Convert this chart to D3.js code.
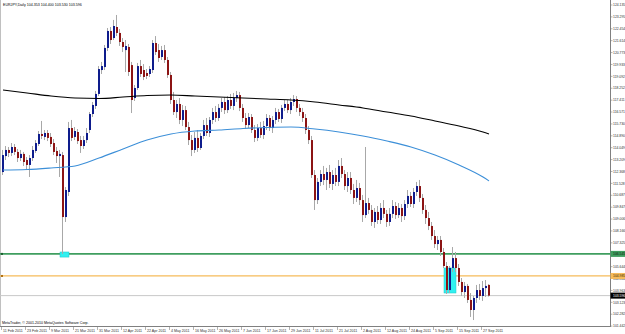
<!DOCTYPE html>
<html>
<head>
<meta charset="utf-8">
<script src="https://cdn.jsdelivr.net/npm/d3@7"></script>
<style>
  html, body { margin: 0; padding: 0; background: #fff; }
  svg { display: block; font-family: "Liberation Sans", Arial, sans-serif; }
</style>
</head>
<body>
<svg id="chart" width="625" height="334"></svg>
<script>
// EURJPY daily bars, each [open, high, low, close]
const bars = [
  [112.33,113.89,112.12,113.53],[113.46,114.17,113.18,113.89],[113.89,114.10,113.39,113.68],[113.68,114.38,113.46,114.10],
  [114.10,114.31,113.53,113.75],[113.75,113.96,113.04,113.32],[113.32,113.89,113.11,113.61],[113.61,113.75,112.76,113.04],
  [113.18,113.39,112.47,112.83],[112.83,113.53,111.98,113.32],[113.32,114.17,113.11,113.89],[113.82,114.59,113.68,114.38],
  [114.31,115.23,114.17,115.02],[115.02,115.94,114.66,114.88],[114.81,115.30,114.59,115.09],[115.09,115.30,114.52,114.74],
  [114.81,115.09,114.10,114.31],[114.38,114.66,113.53,113.75],[113.82,114.10,112.97,113.46],[113.46,113.89,111.98,113.61],
  [113.53,113.75,106.54,109.15],[109.15,111.27,108.80,111.06],[110.92,115.87,110.64,115.44],[115.44,116.01,114.52,114.74],
  [114.81,115.51,114.59,115.23],[115.16,115.37,114.31,114.52],[114.59,114.88,113.68,114.17],[114.17,114.88,113.96,114.59],
  [114.59,115.44,114.38,115.09],[115.30,116.57,115.09,116.43],[116.43,117.28,116.22,117.07],[117.00,118.06,116.79,117.85],
  [117.85,119.82,117.70,119.61],[119.54,120.11,119.26,119.82],[119.75,121.31,119.54,121.10],[121.10,122.51,120.88,122.30],
  [122.30,122.58,121.38,121.66],[121.80,123.08,121.66,122.65],[122.58,123.43,121.94,122.16],[122.16,122.44,121.24,121.52],
  [121.52,121.80,120.81,121.17],[120.95,121.66,119.40,121.24],[121.17,121.38,119.12,119.40],[119.89,120.11,116.50,117.42],
  [117.56,118.48,117.35,118.27],[118.27,120.04,118.13,119.82],[119.82,120.25,119.05,119.26],[119.54,119.96,118.83,119.05],
  [119.33,119.61,118.90,119.12],[119.26,119.82,119.05,119.61],[119.54,121.66,119.33,121.45],[121.45,121.94,120.60,120.81],
  [120.95,121.38,120.11,120.39],[120.46,121.24,120.25,120.95],[120.95,121.31,120.04,120.25],[120.25,120.46,118.98,119.19],
  [119.19,119.40,117.14,117.42],[117.42,117.99,116.36,116.57],[116.57,117.42,116.15,117.14],[117.14,117.56,115.72,116.01],
  [116.01,117.07,115.58,116.71],[116.71,117.00,115.30,115.51],[115.51,115.87,114.24,114.59],[114.59,114.95,113.46,113.89],
  [113.89,115.16,113.68,114.74],[114.74,115.30,113.75,114.03],[114.03,115.09,113.89,114.88],[114.88,116.01,114.66,115.65],
  [115.65,116.15,114.88,115.09],[115.09,116.22,114.81,116.01],[116.01,116.86,115.72,116.57],[116.57,117.00,115.87,116.15],
  [116.15,117.14,115.94,116.86],[116.86,117.56,116.57,117.28],[117.28,117.63,116.43,116.71],[116.71,117.70,116.50,117.42],
  [117.42,117.85,116.79,117.00],[117.00,117.92,116.71,117.56],[117.56,118.06,117.28,117.77],[117.77,117.99,116.64,116.86],
  [116.86,117.14,115.87,116.15],[116.15,116.50,115.37,115.65],[115.65,116.50,115.44,116.22],[116.22,116.43,115.09,115.30],
  [115.30,115.65,114.45,114.74],[114.74,115.72,114.52,115.44],[115.44,115.87,114.74,114.95],[114.95,115.94,114.66,115.58],
  [115.58,116.43,115.30,116.15],[116.15,116.36,115.23,115.44],[115.44,116.29,115.09,116.01],[116.01,116.86,115.72,116.57],
  [116.57,116.79,115.87,116.08],[116.08,117.07,115.80,116.86],[116.86,117.42,116.64,117.14],[117.14,117.42,116.50,116.71],
  [116.71,117.56,116.43,117.28],[117.28,117.77,117.00,117.49],[117.49,117.70,116.57,116.86],[116.86,117.14,116.29,116.57],
  [116.57,116.86,115.87,116.15],[116.15,116.43,115.02,115.30],[115.30,115.58,114.31,114.59],[114.59,114.88,111.91,112.12],
  [112.12,112.47,109.65,110.35],[110.35,111.91,110.07,111.63],[111.63,112.47,111.34,112.19],[112.19,112.76,111.41,111.77],
  [111.77,112.62,111.06,112.33],[112.33,112.83,111.20,111.49],[111.49,112.47,111.06,112.12],[112.12,112.62,111.34,111.63],
  [111.63,113.18,111.34,112.76],[112.76,113.32,111.91,112.19],[112.19,112.47,111.06,111.34],[111.34,112.33,110.92,111.91],
  [111.91,112.33,110.78,111.06],[111.06,111.49,110.07,110.50],[110.50,111.77,110.21,111.20],[111.20,111.56,110.00,110.35],
  [110.35,110.71,108.80,109.29],[109.29,114.10,109.08,110.14],[110.14,110.50,109.37,109.65],[109.65,110.00,108.52,108.80],
  [108.80,109.79,108.38,109.51],[109.51,109.93,108.66,108.94],[108.94,110.14,108.66,109.79],[109.79,110.35,109.08,109.37],
  [109.37,109.65,108.45,108.80],[108.80,109.79,108.52,109.37],[109.37,110.35,109.08,109.93],[109.93,110.21,109.01,109.29],
  [109.29,110.14,109.08,109.79],[109.79,110.07,108.80,109.22],[109.22,110.35,108.94,110.07],[110.07,111.06,109.79,110.64],
  [110.64,110.92,109.86,110.07],[110.07,111.20,109.79,110.92],[110.92,111.63,110.64,111.34],[111.34,111.77,110.21,110.50],
  [110.50,110.78,109.37,109.65],[109.65,110.00,108.66,109.08],[109.08,109.51,108.23,108.52],[108.52,108.80,107.53,107.81],
  [107.81,108.23,106.96,107.24],[107.24,107.81,106.82,107.53],[107.53,107.81,106.40,106.68],[106.68,106.96,105.55,105.69],
  [105.69,105.97,103.71,103.99],[103.99,105.69,103.78,105.55],[105.55,107.03,105.27,106.25],[106.25,106.68,105.27,105.55],
  [105.55,105.83,104.28,104.56],[104.56,104.84,103.57,103.85],[103.85,104.56,103.43,104.28],[104.28,104.42,103.08,103.29],
  [103.29,103.78,102.09,102.58],[102.58,103.57,101.87,103.43],[103.43,104.35,103.08,103.99],[103.99,104.42,103.29,103.57],
  [103.57,104.63,103.22,104.13],[104.13,104.70,103.50,104.28],[104.353,104.400,103.530,103.596]
];

// date labels, one every 8 bars
const dateLabels = ["11 Feb 2011", "23 Feb 2011", "9 Mar 2011", "21 Mar 2011", "31 Mar 2011", "12 Apr 2011",
  "22 Apr 2011", "4 May 2011", "16 May 2011", "26 May 2011", "7 Jun 2011", "17 Jun 2011", "29 Jun 2011",
  "11 Jul 2011", "21 Jul 2011", "2 Aug 2011", "12 Aug 2011", "24 Aug 2011", "5 Sep 2011", "15 Sep 2011", "27 Sep 2011"];
const labelEvery = 8;

const priceTicks = ["124.135", "123.295", "122.454", "121.614", "120.773", "119.933", "119.092", "118.252",
  "117.411", "116.571", "115.730", "114.890", "114.049", "113.209", "112.368", "111.528", "110.687",
  "109.847", "109.006", "108.166", "107.325", "106.485", "105.644", "104.804", "103.963", "103.123",
  "102.282", "101.442"];

// moving averages, read at these bars
const maBars = [0, 8, 16, 24, 32, 40, 48, 56, 64, 72, 80, 88, 96, 104, 112, 120, 128, 136, 144, 152, 160, 162];
const maSlow = [118.13, 117.92, 117.70, 117.56, 117.53, 117.63, 117.74, 117.77, 117.70, 117.63, 117.56,
  117.49, 117.42, 117.28, 117.07, 116.86, 116.57, 116.29, 115.94, 115.58, 115.16, 115.02];
const maFast = [112.47, 112.51, 112.62, 112.76, 113.32, 113.96, 114.59, 115.02, 115.23, 115.30, 115.41,
  115.48, 115.51, 115.37, 115.16, 114.88, 114.52, 114.10, 113.53, 112.83, 111.98, 111.70];

// horizontal levels and highlighted zones [fromBar, toBar, top, bottom]
const supportLevel = 106.545;
const resistLevel = 104.985;
const zones = [[19.5, 22.5, 106.68, 106.32], [147.5, 151.5, 105.55, 103.78]];

const svg = d3.select("#chart");
const plotRight = 610, plotBottom = 326;

const x = d3.scaleLinear().domain([0, bars.length - 1]).range([3, 489]);
const y = d3.scaleLinear().domain([101.442, 124.135]).range([326.1, 5]);

// frame
svg.append("line").attr("x1", 0.5).attr("x2", 0.5).attr("y1", 0).attr("y2", plotBottom)
  .attr("stroke", "#c0c0c0");
svg.append("line").attr("x1", 0).attr("x2", plotRight).attr("y1", plotBottom + 0.5).attr("y2", plotBottom + 0.5)
  .attr("stroke", "#808080");
svg.append("line").attr("x1", plotRight + 0.5).attr("x2", plotRight + 0.5).attr("y1", 0).attr("y2", plotBottom + 1)
  .attr("stroke", "#808080");

const last = bars[bars.length - 1];

// bid line
svg.append("line").attr("x1", 0).attr("x2", plotRight).attr("y1", y(last[3])).attr("y2", y(last[3]))
  .attr("stroke", "#c8c8c8").attr("stroke-width", 1);

// levels
svg.append("line").attr("x1", 0).attr("x2", plotRight).attr("y1", y(supportLevel)).attr("y2", y(supportLevel))
  .attr("stroke", "#3f9e5f").attr("stroke-width", 1.8);
svg.append("line").attr("x1", 0).attr("x2", plotRight).attr("y1", y(resistLevel)).attr("y2", y(resistLevel))
  .attr("stroke", "#f6bb5a").attr("stroke-width", 1.3);
svg.append("rect").attr("x", 1).attr("y", y(supportLevel) - 1).attr("width", 2).attr("height", 2).attr("fill", "#1f5e30");
svg.append("rect").attr("x", 1).attr("y", y(resistLevel) - 1).attr("width", 2).attr("height", 2).attr("fill", "#b07010");

// zones
svg.append("g").selectAll("rect").data(zones).join("rect")
  .attr("x", d => x(d[0]) - 1.5)
  .attr("width", d => x(d[1]) - x(d[0]))
  .attr("y", d => y(d[2]))
  .attr("height", d => y(d[3]) - y(d[2]))
  .attr("fill", "#30f0f0").attr("stroke", "#20c8c8").attr("stroke-width", 0.5);

// candles
const candles = svg.append("g");
candles.selectAll("line").data(bars).join("line")
  .attr("x1", (d, i) => x(i) - 0.5).attr("x2", (d, i) => x(i) - 0.5)
  .attr("y1", d => y(d[1])).attr("y2", d => y(d[2]))
  .attr("stroke", "#a8a8a8").attr("stroke-width", 1);
candles.selectAll("rect").data(bars).join("rect")
  .attr("x", (d, i) => x(i) - 1)
  .attr("width", 2)
  .attr("y", d => y(Math.max(d[0], d[3])))
  .attr("height", d => Math.max(1, Math.abs(y(d[0]) - y(d[3]))))
  .attr("fill", d => d[3] >= d[0] ? "#0e1c8c" : "#8c1414");

// moving averages
const maLine = d3.line().x((d, i) => x(maBars[i])).y(d => y(d)).curve(d3.curveMonotoneX);
svg.append("path").datum(maSlow).attr("d", maLine).attr("fill", "none")
  .attr("stroke", "#000").attr("stroke-width", 1.1);
svg.append("path").datum(maFast).attr("d", maLine).attr("fill", "none")
  .attr("stroke", "#3c8fd8").attr("stroke-width", 1.1);

// price axis
const pAxis = svg.append("g").attr("font-size", 3.4).attr("fill", "#303030");
priceTicks.forEach(t => {
  const yy = y(+t);
  pAxis.append("line").attr("x1", plotRight).attr("x2", plotRight + 2.5).attr("y1", yy).attr("y2", yy)
    .attr("stroke", "#808080").attr("stroke-width", 0.6);
  pAxis.append("text").attr("x", plotRight + 3).attr("y", yy + 1.2).text(t);
});

// level tags on the price axis
function tag(price, fill, textColor) {
  const yy = y(price);
  svg.append("rect").attr("x", plotRight + 0.5).attr("y", yy - 3).attr("width", 14.5).attr("height", 6)
    .attr("fill", fill);
  svg.append("text").attr("x", plotRight + 3).attr("y", yy + 1.2).attr("font-size", 3.4)
    .attr("fill", textColor).text(price.toFixed(3));
}
tag(supportLevel, "#3f9e5f", "#102010");
tag(resistLevel, "#f6bb5a", "#3a2a00");
tag(last[3], "#000", "#fff");

// date axis
const dAxis = svg.append("g").attr("font-size", 3.6).attr("fill", "#303030");
dateLabels.forEach((lab, k) => {
  const xx = x(k * labelEvery) - 1.5;
  dAxis.append("line").attr("x1", xx).attr("x2", xx).attr("y1", plotBottom).attr("y2", plotBottom + 4)
    .attr("stroke", "#808080").attr("stroke-width", 0.6);
  dAxis.append("text").attr("x", xx + 1.5).attr("y", plotBottom + 5.5).text(lab);
});

// header and copyright
svg.append("text").attr("x", 3).attr("y", 5.5).attr("font-size", 3.6).attr("fill", "#000")
  .text("EURJPY,Daily  " + last.map(v => v.toFixed(3)).join(" "));
svg.append("text").attr("x", 2).attr("y", plotBottom - 2.5).attr("font-size", 3.6).attr("fill", "#000")
  .text("MetaTrader, \u00a9 2001-2010 MetaQuotes Software Corp.");
</script>
</body>
</html>
